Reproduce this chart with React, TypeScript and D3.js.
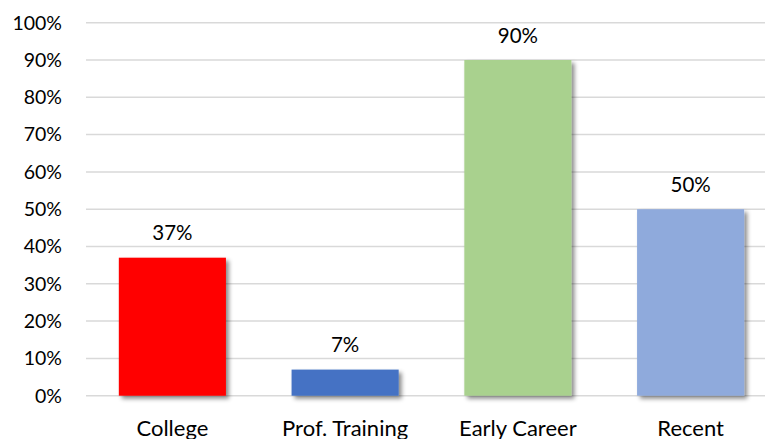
import React from "react";
import * as d3 from "d3";

const categories = ["College", "Prof. Training", "Early Career", "Recent"];
const values = [37, 7, 90, 50];
const colors = ["#FF0000", "#4472C4", "#A9D18E", "#8FAADC"];
const yTicks = [0, 10, 20, 30, 40, 50, 60, 70, 80, 90, 100];

const W = 765;
const H = 439;
const left = 86;
const right = 777;
const top = 22.7;
const bottom = 395.7;
const font = "Lato, 'Open Sans', sans-serif";

export default function App() {
  const x = d3.scaleBand<string>().domain(categories).range([left, right]).paddingInner(0.38).paddingOuter(0.19);
  const y = d3.scaleLinear().domain([0, 100]).range([bottom, top]);
  return (
    <svg width={W} height={H} style={{ position: "absolute", left: 0, top: 0, background: "#fff" }}>
      <defs>
        <filter id="sh" x="-20%" y="-20%" width="150%" height="150%">
          <feDropShadow dx="3" dy="3" stdDeviation="2.2" floodColor="#000" floodOpacity="0.45" />
        </filter>
      </defs>
      {yTicks.map((t) => (
        <g key={t}>
          <line x1={left} x2={W} y1={y(t)} y2={y(t)} stroke="#d9d9d9" strokeWidth={1.5} />
          <text x={62} y={y(t)} dy="0.35em" textAnchor="end" fontFamily={font} fontSize={19.5} fill="#000">
            {t}%
          </text>
        </g>
      ))}
      {categories.map((c, i) => (
        <g key={c}>
          <rect
            x={x(c)}
            y={y(values[i])}
            width={x.bandwidth()}
            height={y(0) - y(values[i])}
            fill={colors[i]}
            filter="url(#sh)"
          />
          <text
            x={(x(c) as number) + x.bandwidth() / 2}
            y={y(values[i]) - 17.5}
            textAnchor="middle"
            fontFamily={font}
            fontSize={20.5}
            fill="#000"
          >
            {values[i]}%
          </text>
          <text
            x={(x(c) as number) + x.bandwidth() / 2}
            y={436}
            textAnchor="middle"
            fontFamily={font}
            fontSize={22}
            fill="#000"
          >
            {c}
          </text>
        </g>
      ))}
    </svg>
  );
}
